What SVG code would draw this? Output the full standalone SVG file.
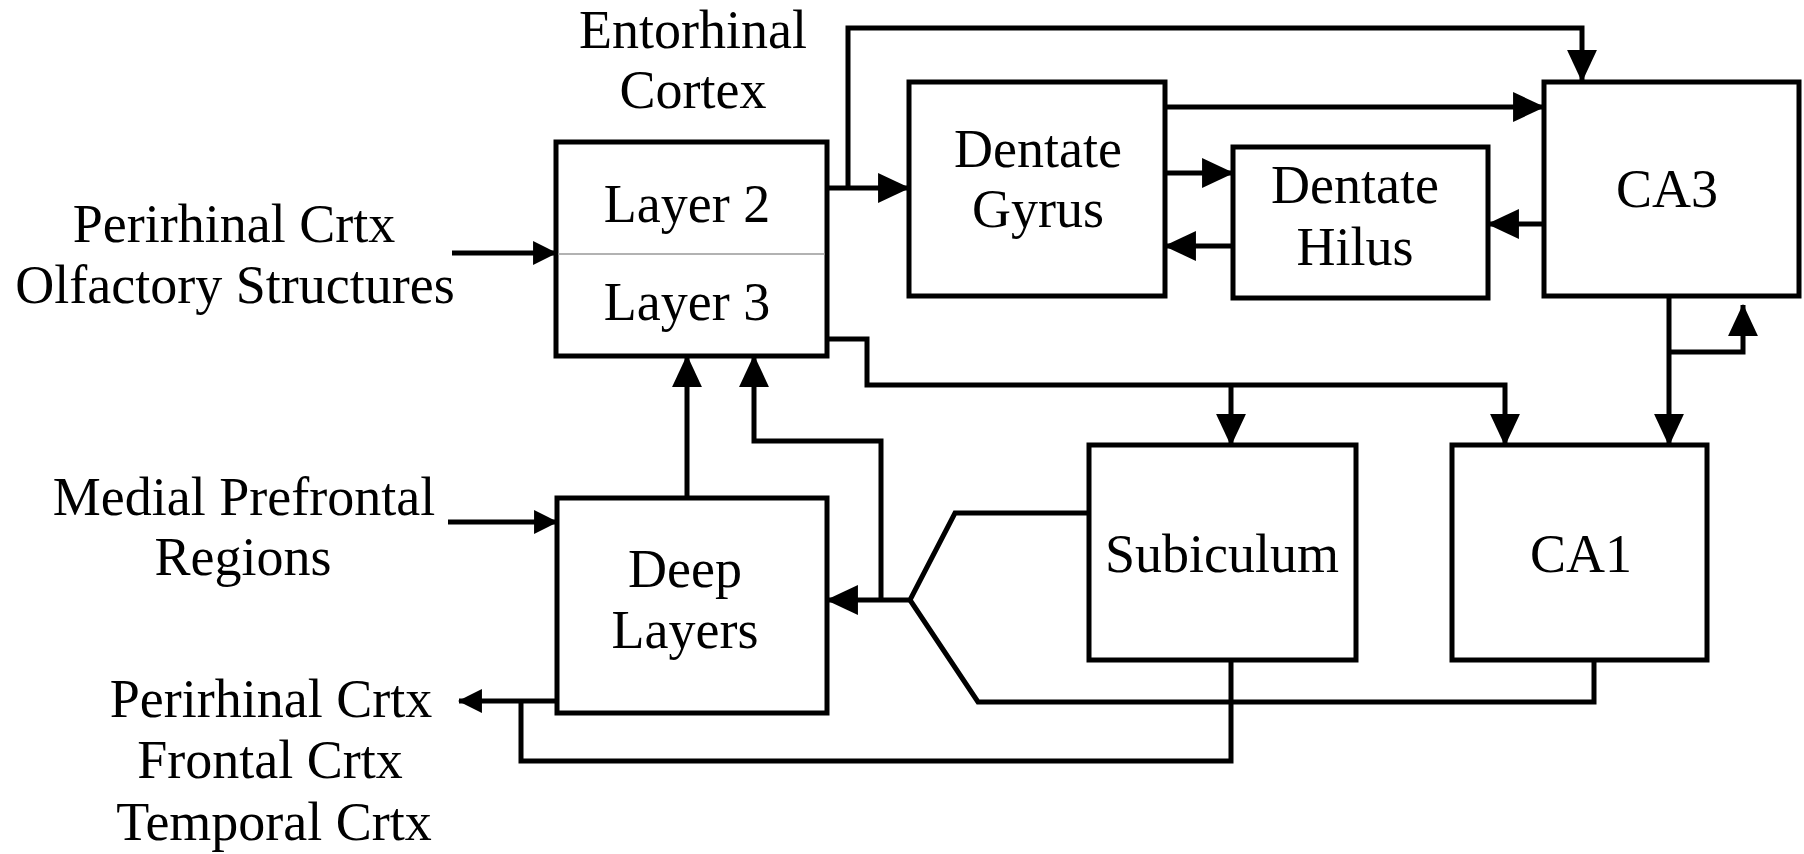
<svg xmlns="http://www.w3.org/2000/svg" width="1804" height="854" viewBox="0 0 1804 854">
<style>
.box{fill:#fff;stroke:#000;stroke-width:5}
.t{font-family:'Liberation Serif','Times New Roman',Tinos,'Noto Serif','DejaVu Serif',serif;font-size:54px;fill:#000;text-anchor:middle}
.c{fill:none;stroke:#000;stroke-width:5;stroke-linejoin:miter}
.a{marker-end:url(#big)}
.s{marker-end:url(#small)}
</style>
<defs>
<marker id="big" markerUnits="userSpaceOnUse" markerWidth="32" markerHeight="30" viewBox="0 0 30 28" refX="29" refY="14" orient="auto">
<path d="M0,0 L30,14 L0,28 z" fill="#000"/>
</marker>
<marker id="small" markerUnits="userSpaceOnUse" markerWidth="24" markerHeight="24" viewBox="0 0 22 22" refX="21" refY="11" orient="auto">
<path d="M0,0 L22,11 L0,22 z" fill="#000"/>
</marker>
</defs>
<rect width="1804" height="854" fill="#fff"/>
<g id="connectors">
<path class="c s" d="M452,253 H556"/>
<path class="c s" d="M448,522 H557"/>
<path class="c s" d="M557,701 H459"/>
<path class="c" d="M1231,660 V761 H521 V701"/>
<path class="c a" d="M687,498 V356"/>
<path class="c a" d="M1089,513 H955 L910,600 H827"/>
<path class="c" d="M1594,660 V702 H978 L910,600"/>
<path class="c a" d="M881,600 V441 H754 V356"/>
<path class="c a" d="M827,188 H909"/>
<path class="c a" d="M848,188 V28 H1582 V81"/>
<path class="c a" d="M1165,107 H1544"/>
<path class="c a" d="M1165,173 H1233"/>
<path class="c a" d="M1233,246 H1165"/>
<path class="c a" d="M1544,224 H1488"/>
<path class="c a" d="M1669,298 V445"/>
<path class="c a" d="M1669,352 H1743 V305"/>
<path class="c a" d="M827,339 H867 V385 H1505 V445"/>
<path class="c a" d="M1231,385 V445"/>
</g>
<g id="entorhinal-cortex">
<text class="t" x="693" y="48">Entorhinal</text>
<text class="t" x="693" y="108">Cortex</text>
<rect class="box" x="556" y="142" width="271" height="214"/>
<line x1="558" y1="254" x2="825" y2="254" stroke="#999" stroke-width="1.5"/>
<text class="t" x="687" y="222">Layer 2</text>
<text class="t" x="687" y="320">Layer 3</text>
</g>
<g id="deep-layers">
<rect class="box" x="557" y="498" width="270" height="215"/>
<text class="t" x="685" y="587">Deep</text>
<text class="t" x="685" y="648">Layers</text>
</g>
<g id="dentate-gyrus">
<rect class="box" x="909" y="82" width="256" height="214"/>
<text class="t" x="1038" y="167">Dentate</text>
<text class="t" x="1038" y="227">Gyrus</text>
</g>
<g id="dentate-hilus">
<rect class="box" x="1233" y="147" width="255" height="151"/>
<text class="t" x="1355" y="203">Dentate</text>
<text class="t" x="1355" y="265">Hilus</text>
</g>
<g id="ca3">
<rect class="box" x="1544" y="82" width="255" height="214"/>
<text class="t" x="1667" y="207">CA3</text>
</g>
<g id="subiculum">
<rect class="box" x="1089" y="445" width="267" height="215"/>
<text class="t" x="1222" y="572">Subiculum</text>
</g>
<g id="ca1">
<rect class="box" x="1452" y="445" width="255" height="215"/>
<text class="t" x="1581" y="572">CA1</text>
</g>
<g id="inputs">
<text class="t" x="234" y="242">Perirhinal Crtx</text>
<text class="t" x="235" y="303">Olfactory Structures</text>
<text class="t" x="244" y="515">Medial Prefrontal</text>
<text class="t" x="243" y="575">Regions</text>
</g>
<g id="outputs">
<text class="t" x="271" y="717">Perirhinal Crtx</text>
<text class="t" x="270" y="778">Frontal Crtx</text>
<text class="t" x="274" y="840">Temporal Crtx</text>
</g>
</svg>
